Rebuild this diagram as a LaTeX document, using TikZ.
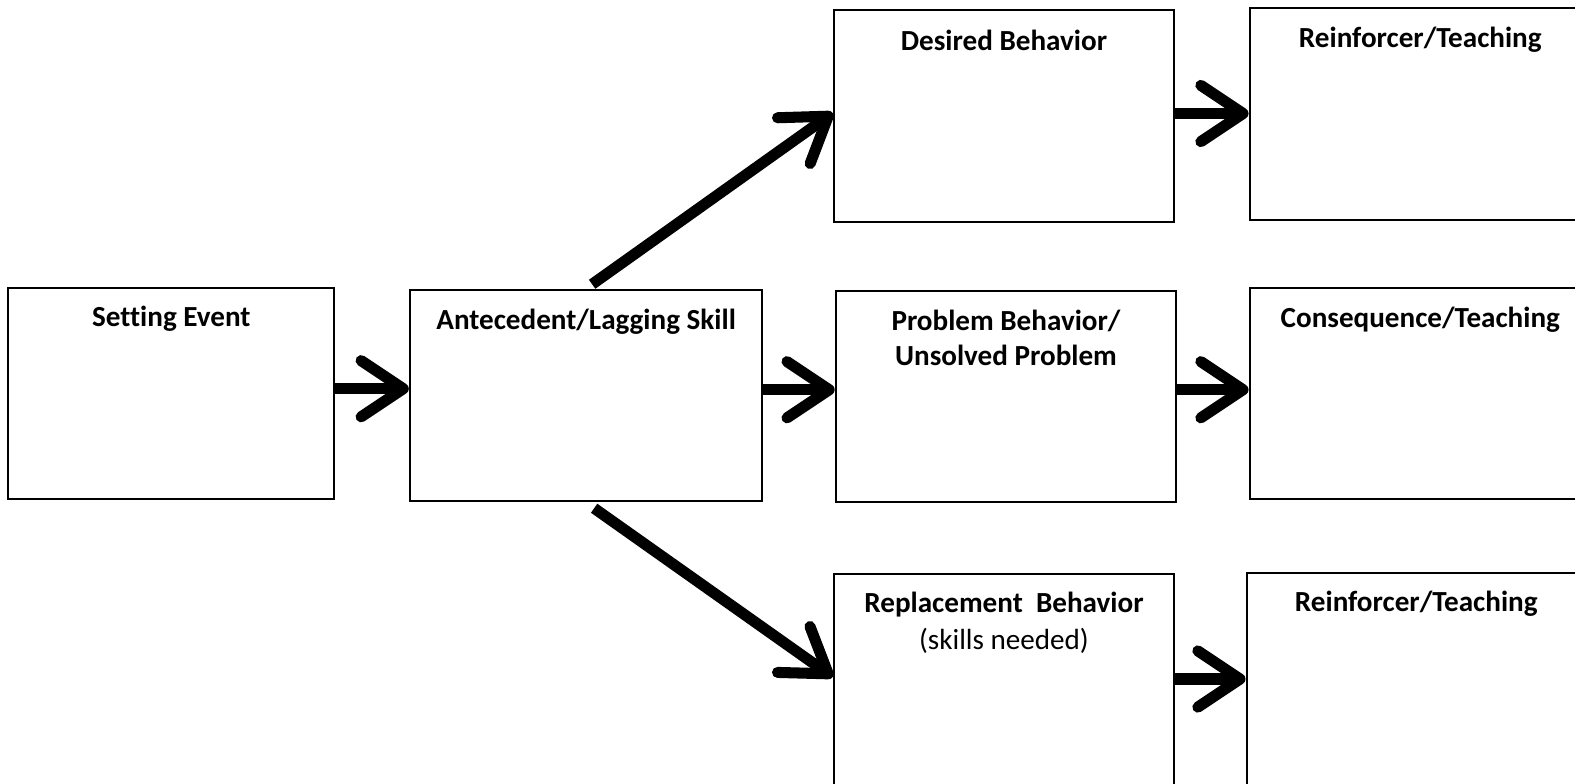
\documentclass[tikz,border=0pt]{standalone}
\usepackage{fontspec}
\setmainfont{Carlito}[Ligatures=NoCommon]
\usetikzlibrary{arrows.meta}

\begin{document}
\begin{tikzpicture}[x=0.5pt,y=-0.5pt,
  box/.style={draw,line width=1pt,inner sep=0pt},
  title/.style={anchor=base,inner sep=0pt,align=center,
    font=\fontsize{14.5}{17.5}\selectfont\bfseries},
  flow/.style={line width=5.5pt,
    -{Straight Barb[length=21pt,width=28pt,round]}}]
  \useasboundingbox (0,0) rectangle (1568,780);
  \clip (0,0) rectangle (1568,780);
  % left column
  \node[box,minimum width=162.5pt,minimum height=105pt] (se) at (170.5,392) {};
  \node[title] (seT) at ([yshift=-19.5pt]se.north) {Setting Event};
  \node[box,minimum width=175.5pt,minimum height=105pt] (ant) at (583.5,394) {};
  \node[title] (antT) at ([yshift=-20pt]ant.north) {Antecedent/Lagging Skill};
  % behaviours
  \node[box,minimum width=169.5pt,minimum height=105.5pt] (des) at (999.5,115.5) {};
  \node[title] (desT) at ([yshift=-20.5pt]des.north) {Desired Behavior};
  \node[box,minimum width=169.5pt,minimum height=105pt] (prob) at (1001.5,395) {};
  \node[title] (probT) at ([yshift=-37.5pt]prob.north) {Problem Behavior/\\Unsolved Problem};
  \node[box,minimum width=169.5pt,minimum height=115pt] (rep) at (999.5,686) {};
  \node[title] (repT) at ([yshift=-20pt]rep.north) {Replacement~ Behavior};
  \node[title,font=\fontsize{14.5}{17.5}\selectfont] (repS) at ([yshift=-38.5pt]rep.north) {(skills needed)};
  % outcomes
  \node[box,minimum width=170pt,minimum height=105.5pt] (rt) at (1414,113.5) {};
  \node[title] (rtT) at ([yshift=-20pt]rt.north) {Reinforcer/Teaching};
  \node[box,minimum width=170pt,minimum height=105pt] (cons) at (1414,392) {};
  \node[title] (consT) at ([yshift=-20pt]cons.north) {Consequence/Teaching};
  \node[box,minimum width=169pt,minimum height=115pt] (rb) at (1410,685) {};
  \node[title] (rbT) at ([yshift=-20pt]rb.north) {Reinforcer/Teaching};
  % arrows
  \draw[flow] ([yshift=2.5pt]se.east) -- ([yshift=2.5pt]se.east -| ant.west);
  \draw[flow] ([yshift=3pt]ant.east) -- ([yshift=3pt]ant.east -| prob.west);
  \draw[flow] ([yshift=1.25pt]des.east) -- ([yshift=1.25pt]des.east -| rt.west);
  \draw[flow] ([yshift=3.5pt]prob.east) -- ([yshift=3.5pt]prob.east -| cons.west);
  \draw[flow] ([yshift=-53pt]rep.north east) -- ([yshift=-53pt]rep.north east -| rb.west);
  \draw[flow] ([xshift=3pt,yshift=2.5pt]ant.north) -- ([yshift=1.5pt]des.west);
  \draw[flow] ([xshift=4pt,yshift=-3pt]ant.south) -- ([yshift=-52pt]rep.north west);
\end{tikzpicture}
\end{document}
